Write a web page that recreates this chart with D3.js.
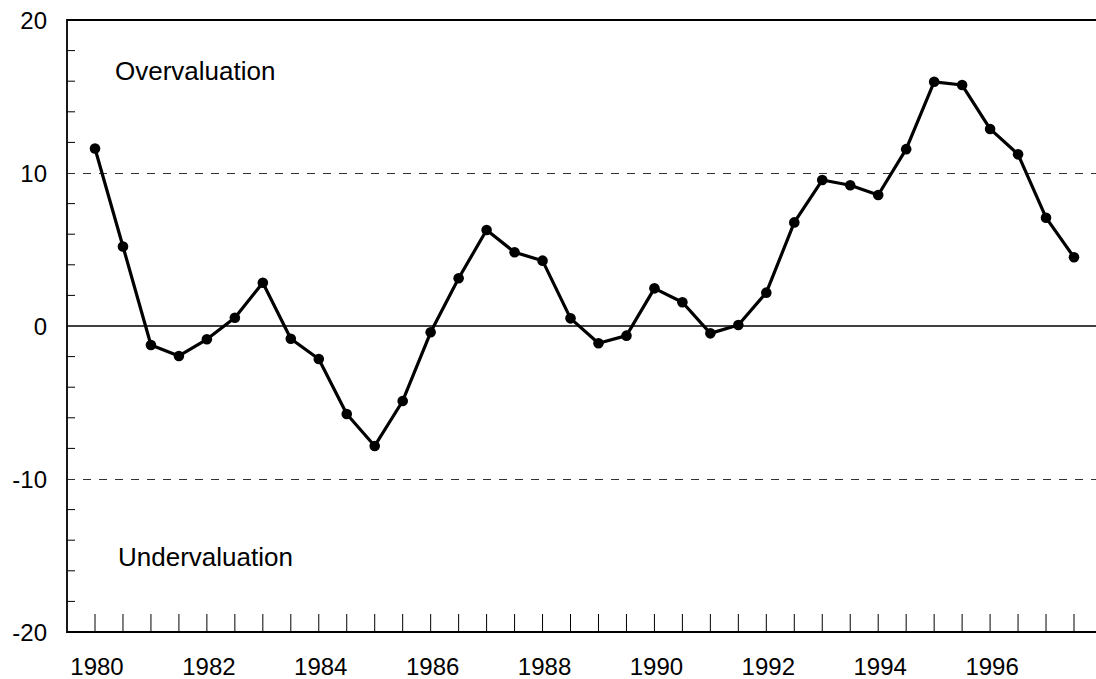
<!DOCTYPE html>
<html>
<head>
<meta charset="utf-8">
<script src="https://cdn.jsdelivr.net/npm/d3@7"></script>
<style>
  body { margin: 0; background: #fff; }
  text { font-family: Arial, "Liberation Sans", sans-serif; fill: #000; }
</style>
</head>
<body>
<script>
// half-yearly observations, 1980 to 1997.5
var years = d3.range(1980, 1998, 0.5);
var values = [11.6, 5.2, -1.24, -1.96, -0.87, 0.54, 2.83, -0.83, -2.16, -5.75,
              -7.84, -4.9, -0.41, 3.12, 6.27, 4.82, 4.27, 0.5, -1.13, -0.63,
              2.46, 1.55, -0.48, 0.07, 2.18, 6.77, 9.54, 9.2, 8.56, 11.56,
              15.96, 15.75, 12.88, 11.22, 7.08, 4.49];
var yLabels = [20, 10, 0, -10, -20];
var xLabels = [1980, 1982, 1984, 1986, 1988, 1990, 1992, 1994, 1996];
var refLines = [10, -10];

var width = 1096;
var height = 679;
var left = 67;

var svg = d3.select("body").append("svg")
    .attr("width", width)
    .attr("height", height);

var x = d3.scaleLinear().domain([1980, 1997.5]).range([95, 1074]);
var y = d3.scaleLinear().domain([-20, 20]).range([632, 20]);

// dashed lines at +/-10
svg.selectAll(".ref").data(refLines).enter().append("line")
    .attr("x1", left).attr("x2", width)
    .attr("y1", function(d){ return y(d) + 0.5; })
    .attr("y2", function(d){ return y(d) + 0.5; })
    .attr("stroke", "#333")
    .attr("stroke-width", 1)
    .attr("stroke-dasharray", "8,8");

// zero line
svg.append("line")
    .attr("x1", left).attr("x2", width)
    .attr("y1", y(0)).attr("y2", y(0))
    .attr("stroke", "#000")
    .attr("stroke-width", 1.6);

// frame: top, left, bottom
svg.append("path")
    .attr("d", "M" + width + "," + y(20) + "H" + left + "V" + y(-20) + "H" + width)
    .attr("fill", "none")
    .attr("stroke", "#000")
    .attr("stroke-width", 1.8);

// minor y ticks every 2 units
var yTicks = d3.range(-18, 20, 2).filter(function(d){ return d % 10 != 0; });
svg.selectAll(".ytick").data(yTicks).enter().append("line")
    .attr("x1", left).attr("x2", left + 8)
    .attr("y1", function(d){ return y(d); })
    .attr("y2", function(d){ return y(d); })
    .attr("stroke", "#000")
    .attr("stroke-width", 1);

// x ticks each half year
svg.selectAll(".xtick").data(years).enter().append("line")
    .attr("x1", function(d){ return x(d); })
    .attr("x2", function(d){ return x(d); })
    .attr("y1", y(-20)).attr("y2", y(-20) - 18)
    .attr("stroke", "#000")
    .attr("stroke-width", 1);

// y labels
svg.selectAll(".ylab").data(yLabels).enter().append("text")
    .attr("x", 47)
    .attr("y", function(d){ return y(d) + 9; })
    .attr("text-anchor", "end")
    .style("font-size", "24px")
    .text(function(d){ return d; });

// x labels
svg.selectAll(".xlab").data(xLabels).enter().append("text")
    .attr("x", function(d){ return x(d) + 2; })
    .attr("y", 675)
    .attr("text-anchor", "middle")
    .style("font-size", "24px")
    .text(function(d){ return d; });

// annotations
svg.append("text").attr("x", 115).attr("y", 80)
    .style("font-size", "26px").text("Overvaluation");
svg.append("text").attr("x", 118).attr("y", 566)
    .style("font-size", "26px").text("Undervaluation");

// series
var line = d3.line()
    .x(function(d, i){ return x(years[i]); })
    .y(function(d){ return y(d); });

svg.append("path")
    .datum(values)
    .attr("d", line)
    .attr("fill", "none")
    .attr("stroke", "#000")
    .attr("stroke-width", 3.2)
    .attr("stroke-linejoin", "round");

svg.selectAll(".dot").data(values).enter().append("circle")
    .attr("cx", function(d, i){ return x(years[i]); })
    .attr("cy", function(d){ return y(d); })
    .attr("r", 5.3)
    .attr("fill", "#000");
</script>
</body>
</html>
